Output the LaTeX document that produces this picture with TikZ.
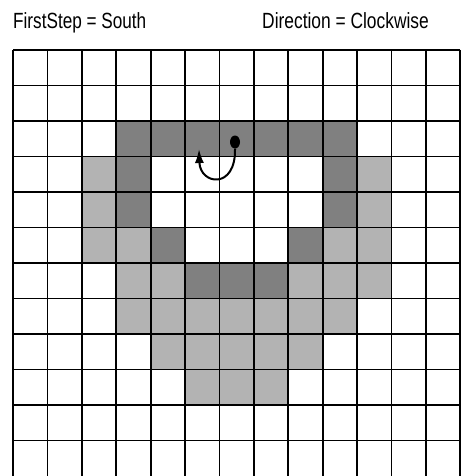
\documentclass[tikz,border=0pt]{standalone}
\usepackage{graphicx}
\usepackage{fontspec}
\setmainfont{Liberation Sans}
\usetikzlibrary{arrows.meta,shapes.geometric}
\definecolor{darkcell}{HTML}{808080}
\definecolor{lightcell}{HTML}{B3B3B3}
\tikzset{
  gridline/.style={line width=1.8pt, black},
  label/.style={inner sep=0pt, anchor=base west, font=\fontsize{22}{24}\selectfont},
  pathline/.style={line width=2pt, black, -{Latex[length=14pt,width=9pt]}},
  startdot/.style={ellipse, fill=black, inner sep=0pt, minimum width=10pt, minimum height=13pt}
}
\begin{document}
\begin{tikzpicture}[x=1pt,y=-1pt]
\useasboundingbox (0,0) rectangle (461,476);
\fill[white] (0,0) rectangle (461,476);
\node[label] (first) at (13,29) {\scalebox{0.78}[1]{FirstStep = South}};
\node[label] (dir) at (262,29) {\scalebox{0.79}[1]{Direction = Clockwise}};
\begin{scope}[shift={(13,50)}, x=34.4pt, y=-35.5pt]
  \foreach \c/\r in {3/2,4/2,5/2,6/2,7/2,8/2,9/2,3/3,9/3,3/4,9/4,4/5,8/5,5/6,6/6,7/6}
    \fill[darkcell] (\c,\r) rectangle ++(1,1);
  \foreach \c/\r in {2/3,10/3,2/4,10/4,2/5,3/5,9/5,10/5,3/6,4/6,8/6,9/6,10/6,
                     3/7,4/7,5/7,6/7,7/7,8/7,9/7,4/8,5/8,6/8,7/8,8/8,5/9,6/9,7/9}
    \fill[lightcell] (\c,\r) rectangle ++(1,1);
  \foreach \c in {0,...,13}
    \draw[gridline] (\c,0) -- (\c,12.2);
  \foreach \r in {0,...,11}
    \draw[gridline] (0,\r) -- (13,\r);
\end{scope}
\node[startdot] (dot) at (235,142) {};
\coordinate (tip) at (199,149);
\draw[pathline] (dot.south) .. controls (236,190) and (200,185) .. (tip);
\end{tikzpicture}
\end{document}
